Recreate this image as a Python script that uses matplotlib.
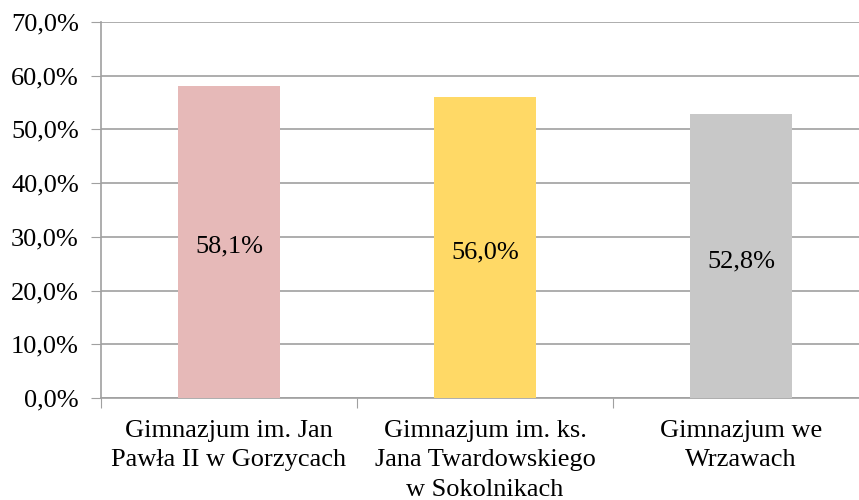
import matplotlib.pyplot as plt
from matplotlib.ticker import FuncFormatter

schools = ["Gimnazjum im. Jan\nPawła II w Gorzycach",
           "Gimnazjum im. ks.\nJana Twardowskiego\nw Sokolnikach",
           "Gimnazjum we\nWrzawach"]
values = [58.1, 56.0, 52.8]
colors = ["#E6B9B8", "#FFD966", "#C8C8C8"]

plt.rcParams["font.family"] = ["Liberation Serif", "DejaVu Serif"]

fig = plt.figure(figsize=(8.59, 5), dpi=100)
ax = fig.add_axes([101 / 859, 1 - 398 / 500, 768 / 859, 376 / 500])

x = range(len(values))
bars = ax.bar(x, values, width=0.40, color=colors, zorder=3)
for b, v in zip(bars, values):
    ax.text(b.get_x() + b.get_width() / 2, v / 2 - 0.9, f"{v:.1f}%".replace(".", ","),
            ha="center", va="center", fontsize=19, zorder=4)

ax.set_xlim(-0.5, 2.5)
ax.set_ylim(0, 70)
ax.set_yticks(range(0, 71, 10))
ax.yaxis.set_major_formatter(FuncFormatter(lambda v, p: f"{v:.1f}%".replace(".", ",")))
ax.tick_params(axis="y", labelsize=19, length=7, color="#a0a0a0", pad=9)
ax.grid(axis="y", color="#a0a0a0", linewidth=1.2, zorder=0)

ax.set_xticks([-0.5, 0.5, 1.5, 2.5])
ax.set_xticklabels([])
ax.set_xticks(list(x), minor=True)
ax.set_xticklabels(schools, minor=True, fontsize=19, linespacing=1.42)
ax.tick_params(axis="x", which="minor", length=0, pad=16)
ax.tick_params(axis="x", which="major", length=7, color="#a0a0a0")

for s in ["top", "right"]:
    ax.spines[s].set_visible(False)
for s in ["left", "bottom"]:
    ax.spines[s].set_color("#a0a0a0")
    ax.spines[s].set_linewidth(1.2)

fig.savefig("out.png", dpi=100)
